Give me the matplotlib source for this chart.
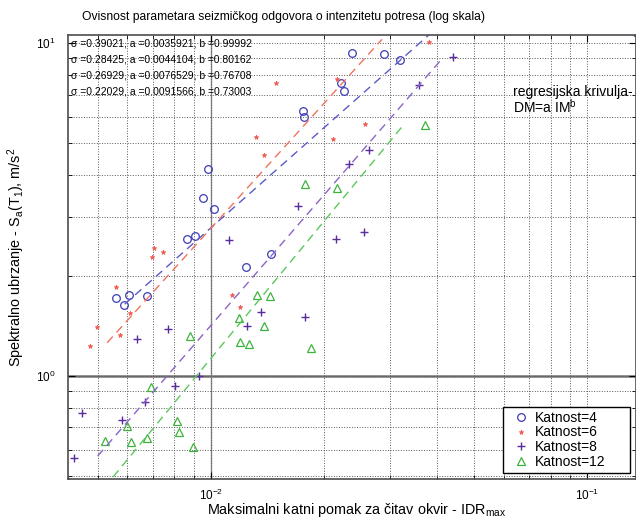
import numpy as np
import matplotlib
matplotlib.use("Agg")
import matplotlib.pyplot as plt

plt.rcParams['font.family'] = ['Liberation Sans', 'DejaVu Sans']
plt.rcParams['mathtext.default'] = 'regular'

# Katnost=4 (blue circles)
idr_4 = [0.02371, 0.02884, 0.03184, 0.02218, 0.02259, 0.01758, 0.01766, 0.00982, 0.00952, 0.01018,
         0.00863, 0.00907, 0.01445, 0.01239, 0.00559, 0.00587, 0.00605, 0.00676, 0.136]
sa_4 = [9.33, 9.27, 8.89, 7.59, 7.18, 6.25, 5.99, 4.19, 3.42, 3.17,
        2.58, 2.63, 2.33, 2.13, 1.71, 1.63, 1.75, 1.74, 10.7]
# Katnost=6 (red stars)
idr_6 = [0.01489, 0.02163, 0.0380, 0.01318, 0.01383, 0.02110, 0.02570, 0.00706, 0.00697, 0.00745,
         0.00559, 0.00497, 0.00477, 0.00573, 0.00609, 0.01137, 0.01194]
sa_6 = [7.59, 7.80, 10.1, 5.22, 4.61, 5.15, 5.71, 2.42, 2.28, 2.36,
        1.85, 1.40, 1.23, 1.33, 1.54, 1.75, 1.61]
# Katnost=8 (purple plus)
idr_8 = [0.0441, 0.0357, 0.0263, 0.0233, 0.01703, 0.01117, 0.02150, 0.02553, 0.00636, 0.00769,
         0.01247, 0.01358, 0.01778, 0.00802, 0.00668, 0.00580, 0.00454, 0.00432, 0.00929]
sa_8 = [9.08, 7.48, 4.77, 4.33, 3.24, 2.56, 2.58, 2.71, 1.29, 1.38,
        1.41, 1.56, 1.50, 0.933, 0.835, 0.738, 0.774, 0.567, 1.00]
# Katnost=12 (green triangles)
idr_12 = [0.0371, 0.01778, 0.02163, 0.00879, 0.01325, 0.01435, 0.01187, 0.01383, 0.01194, 0.01262,
          0.01845, 0.00693, 0.00812, 0.00822, 0.00598, 0.00523, 0.00613, 0.00676, 0.00896, 0.00415]
sa_12 = [5.67, 3.77, 3.67, 1.32, 1.75, 1.74, 1.49, 1.41, 1.26, 1.25,
         1.21, 0.927, 0.732, 0.679, 0.708, 0.638, 0.634, 0.651, 0.612, 0.49]

# regression DM = a * IM^b
sigma = [0.39021, 0.28425, 0.26929, 0.22029]
a_par = [0.0035921, 0.0044104, 0.0076529, 0.0091566]
b_par = [0.99992, 0.80162, 0.76708, 0.73003]
fit_range = [(0.0059, 0.0380), (0.0053, 0.0285), (0.0050, 0.0414), (0.0055, 0.0326)]

labels = ["Katnost=4", "Katnost=6", "Katnost=8", "Katnost=12"]
pt_colors = ["#3c3cb4", "#f05a50", "#5a2d9c", "#3cb43c"]
ln_colors = ["#5a5ac8", "#f0735f", "#8c64c8", "#5ac85a"]

fig = plt.figure(figsize=(6.36, 5.19), dpi=100)
ax = fig.add_axes([68 / 636, 40 / 519, 568 / 636, 444 / 519])

ax.set_xscale("log")
ax.set_yscale("log")
ax.set_xlim(0.00417, 0.135)
ax.set_ylim(0.49, 10.57)

ax.grid(which="both", linestyle=":", color="0.35", linewidth=0.7)
ax.axhline(1.0, color="0.45", linewidth=1.8, zorder=1)
ax.axvline(0.01, color="0.55", linewidth=1.0, zorder=1)

ax.plot(idr_4, sa_4, "o", mfc="none", mec=pt_colors[0], ms=5.5, mew=0.9, label=labels[0])
ax.plot(idr_6, sa_6, "*", color=pt_colors[1], ms=3.5, mew=0.5, label=labels[1])
ax.plot(idr_8, sa_8, "+", color=pt_colors[2], ms=6, mew=1.0, label=labels[2])
ax.plot(idr_12, sa_12, "^", mfc="none", mec=pt_colors[3], ms=5.5, mew=0.9, label=labels[3])

for k in range(4):
    xs = np.logspace(np.log10(fit_range[k][0]), np.log10(fit_range[k][1]), 50)
    ys = (xs / a_par[k]) ** (1.0 / b_par[k])
    ax.plot(xs, ys, "--", color=ln_colors[k], lw=1.0, dashes=(6, 4))

ax.tick_params(which="both", direction="in", top=True, right=True, labelsize=8.5)
ax.tick_params(axis="x", which="major", length=5, pad=6)
ax.tick_params(axis="y", which="major", length=5, pad=9)
ax.tick_params(which="minor", length=3)
for s in ax.spines.values():
    s.set_color("0.3")
    s.set_linewidth(1.2)

leg = ax.legend(loc="lower left", bbox_to_anchor=(435 / 568, 0.0135, 127 / 568, 0.14),
                mode="expand", borderaxespad=0,
                fontsize=10, frameon=True, fancybox=False, edgecolor="black", framealpha=1,
                handlelength=2.0, handletextpad=0.0, labelspacing=0.05, borderpad=0.3)
leg.get_frame().set_linewidth(1.0)

for k in range(4):
    fig.text(71 / 636, 1 - (43 + 16 * k) / 519,
             f"σ ={sigma[k]}, a ={a_par[k]}, b ={b_par[k]}",
             fontsize=7.5, ha="left", va="center")

fig.text(513 / 636, 1 - 92 / 519, "regresijska krivulja-", fontsize=10, ha="left", va="center")
fig.text(513 / 636, 1 - 107 / 519, "DM=a IM$^b$", fontsize=10, ha="left", va="center")

fig.text(284 / 636, 1 - 17 / 519,
         "Ovisnost parametara seizmičkog odgovora o intenzitetu potresa (log skala)",
         fontsize=8.75, ha="center", va="center")
fig.text(357 / 636, 1 - 510 / 519, "Maksimalni katni pomak za čitav okvir - IDR$_{max}$",
         fontsize=10.4, ha="center", va="center")
fig.text(16 / 636, 1 - 257 / 519, "Spektralno ubrzanje - S$_a$(T$_1$), m/s$^2$",
         fontsize=10.4, ha="center", va="center", rotation=90)

fig.savefig("out.png", dpi=100)
